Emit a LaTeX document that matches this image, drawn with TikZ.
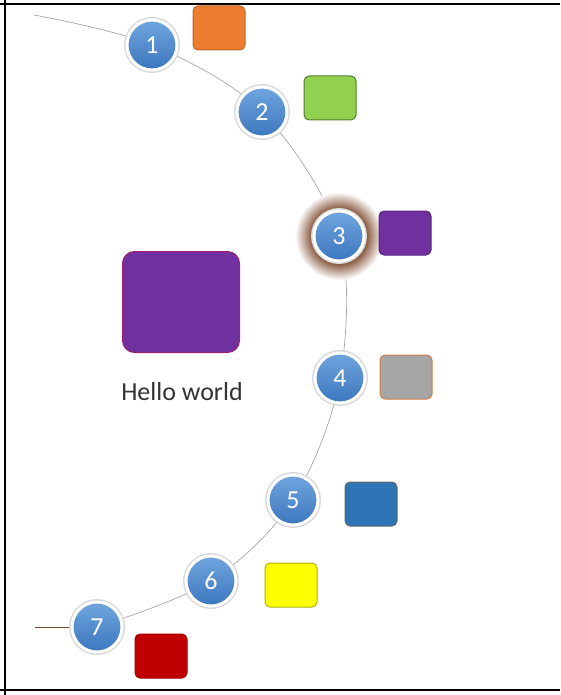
\documentclass[tikz,border=0pt]{standalone}
\usepackage{fontspec}
\setmainfont{Carlito}
\usetikzlibrary{positioning, backgrounds}

\definecolor{ballTop}{RGB}{112,166,222}
\definecolor{ballBot}{RGB}{60,118,190}
\definecolor{glowBrown}{RGB}{128,78,50}
\definecolor{tileOrange}{RGB}{237,125,49}
\definecolor{tileGreen}{RGB}{146,208,80}
\definecolor{tilePurple}{RGB}{112,48,160}
\definecolor{tileGray}{RGB}{166,166,166}
\definecolor{tileBlue}{RGB}{46,117,182}
\definecolor{tileYellow}{RGB}{255,255,0}
\definecolor{tileRed}{RGB}{192,0,0}

\pgfdeclareradialshading{glowshade}{\pgfpoint{0bp}{0bp}}%
  {color(0bp)=(glowBrown); color(15bp)=(glowBrown); color(25bp)=(white); color(50bp)=(white)}

\begin{document}
\begin{tikzpicture}[
    x=1pt, y=-1pt,
    ball/.style={circle, minimum size=50pt, inner sep=0pt,
                 top color=ballTop, bottom color=ballBot,
                 draw=white, line width=3pt,
                 preaction={draw=gray!30, line width=6pt},
                 font=\fontsize{26}{26}\selectfont, text=white},
    glow/.style={circle, minimum size=88pt, inner sep=0pt, shading=glowshade},
    tile/.style={rectangle, rounded corners=5pt, minimum width=52pt,
                 minimum height=44pt, line width=1pt},
    arcline/.style={gray!70, line width=0.7pt},
    tailline/.style={brown!60!black, line width=0.9pt},
    frame/.style={black, line width=2pt}
]
\useasboundingbox (0,0) rectangle (560,695);

%% -- frame ------------------------------------------------------------------
\draw[frame] (0,4)   -- (560,4);
\draw[frame] (5,0)   -- (5,695);
\draw[frame] (0,690) -- (560,690);

%% -- numbered balls ---------------------------------------------------------
\node[glow] (glow) at (339,236) {};

\node[ball] (c1) at (152,45)  {1};
\node[ball] (c2) at (262,112) {2};
\node[ball] (c3) at (glow)    {3};
\node[ball] (c4) at (340,378) {4};
\node[ball] (c5) at (293,500) {5};
\node[ball] (c6) at (211,581) {6};
\node[ball] (c7) at (97,627)  {7};

%% -- coloured tiles ---------------------------------------------------------
\node[tile, fill=tileOrange, draw=tileOrange!80!black] (t1) at (219,28)  {};
\node[tile, fill=tileGreen,  draw=tileGreen!60!black]  (t2) at (330,98)  {};
\node[tile, fill=tilePurple, draw=tilePurple!80!black] (t3) at (405,233) {};
\node[tile, fill=tileGray,   draw=tileOrange!70!gray]  (t4) at (406,377) {};
\node[tile, fill=tileBlue,   draw=black!60]            (t5) at (371,504) {};
\node[tile, fill=tileYellow, draw=tileYellow!70!black] (t6) at (291,585) {};
\node[tile, fill=tileRed,    draw=tileRed!85!black]    (t7) at (161,656) {};

% big tile and caption
\node[tile, fill=tilePurple, draw=tilePurple!70!red, rounded corners=12pt,
      minimum width=117pt, minimum height=101pt] (big) at (181,302) {};
\node[font=\fontsize{26}{26}\selectfont, text=black!80] (hello) at (182,392)
      {Hello world};

%% -- path through the balls -------------------------------------------------
\coordinate (start) at (34,15);
\coordinate (tail)  at (35,627);
\begin{scope}[on background layer]
    \draw[arcline] plot[smooth, tension=0.55]
        coordinates {(start) (c1) (c2) (c3) (c4) (c5) (c6) (c7)};
    \draw[tailline] (tail) -- (c7);
\end{scope}

\end{tikzpicture}
\end{document}
